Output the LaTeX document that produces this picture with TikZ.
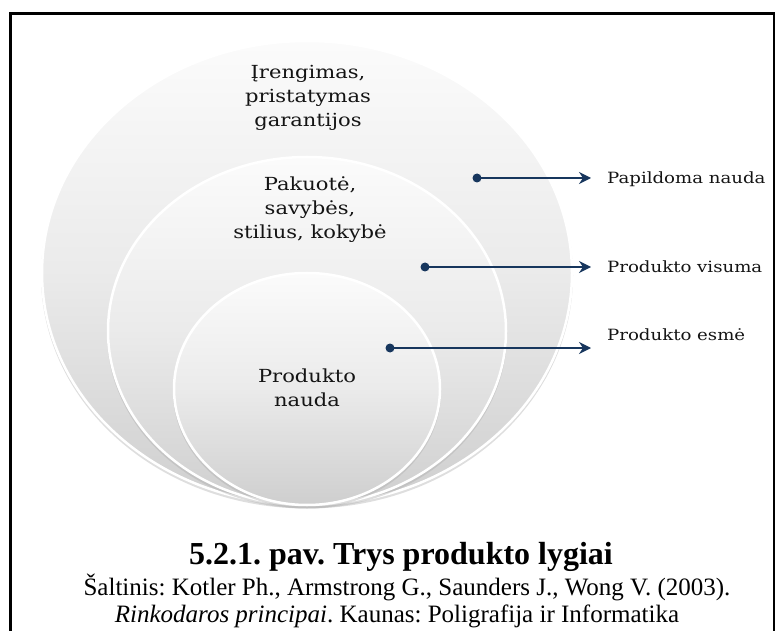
\documentclass[tikz,border=0pt]{standalone}
\usepackage{fontspec}
\usepackage{tikz}
\usetikzlibrary{arrows.meta}

\newfontfamily\ringfont{DejaVu Serif}[FakeStretch=1.17]
\newfontfamily\capfont{Liberation Serif}
\definecolor{navyblue}{HTML}{17365D}
\frenchspacing

\tikzset{
    ringfill/.style={top color=gray!3, bottom color=gray!38, middle color=gray!16, draw=white, line width=2.5pt},
    ringshade/.style={fill=gray!65, opacity=0.4},
    ringtext/.style={align=center, inner sep=0pt, text=black!92, font=\ringfont\fontsize{18}{24}\selectfont},
    dotmark/.style={circle, fill=navyblue, inner sep=0pt, minimum size=9pt},
    pointer/.style={draw=navyblue, line width=1.5pt, -{Stealth[length=12pt, width=12pt, inset=4pt]}},
    sidelabel/.style={anchor=base west, inner sep=0pt, text=black!92, font=\ringfont\fontsize{15.5}{18}\selectfont},
}

\begin{document}
\begin{tikzpicture}[x=1pt, y=-1pt]
    \useasboundingbox (0,0) rectangle (782,631);

    % frame, runs off the bottom of the page
    \draw[line width=2.5pt] (10.3,640) -- (10.3,13.5) -- (774,13.5) -- (774,640);

    % nested rings, all touching at the bottom
    \fill[ringshade] (307,275.5) ellipse [x radius=266pt, y radius=233pt];
    \shade[ringfill] (307,273) ellipse [x radius=265pt, y radius=232pt];
    \fill[ringshade] (307,333.5) ellipse [x radius=200pt, y radius=175pt];
    \shade[ringfill] (307,331) ellipse [x radius=199pt, y radius=174pt];
    \fill[ringshade] (307,391.5) ellipse [x radius=134pt, y radius=117pt];
    \shade[ringfill] (307,389) ellipse [x radius=133pt, y radius=116pt];

    \node[ringtext] (outer) at (308,98) {Įrengimas,\\pristatymas\\garantijos};
    \node[ringtext] (middle) at (310,210) {Pakuotė,\\savybės,\\stilius, kokybė};
    \node[ringtext] (inner) at (307,388) {Produkto\\nauda};

    % pointers out to the level names
    \node[dotmark] (d1) at (477,178) {};
    \node[dotmark] (d2) at (425,267) {};
    \node[dotmark] (d3) at (390,348) {};
    \coordinate (t1) at (591,178);
    \coordinate (t2) at (591,267);
    \coordinate (t3) at (591,348);
    \draw[pointer] (d1.center) -- (t1);
    \draw[pointer] (d2.center) -- (t2);
    \draw[pointer] (d3.center) -- (t3);

    \node[sidelabel] (l1) at (607,184) {Papildoma nauda};
    \node[sidelabel] (l2) at (607,272.5) {Produkto visuma};
    \node[sidelabel] (l3) at (607,340) {Produkto esmė};

    % caption
    \node[anchor=base, font=\capfont\bfseries\fontsize{32}{36}\selectfont] (title) at (401,564) {5.2.1. pav. Trys produkto lygiai};
    \node[anchor=base, font=\capfont\fontsize{25}{29}\selectfont] (source) at (407,595) {Šaltinis: Kotler Ph., Armstrong G., Saunders J., Wong V. (2003).};
    \node[anchor=base, font=\capfont\fontsize{25}{29}\selectfont] (publisher) at (397,622) {\textit{Rinkodaros principai}. Kaunas: Poligrafija ir Informatika};
\end{tikzpicture}
\end{document}
